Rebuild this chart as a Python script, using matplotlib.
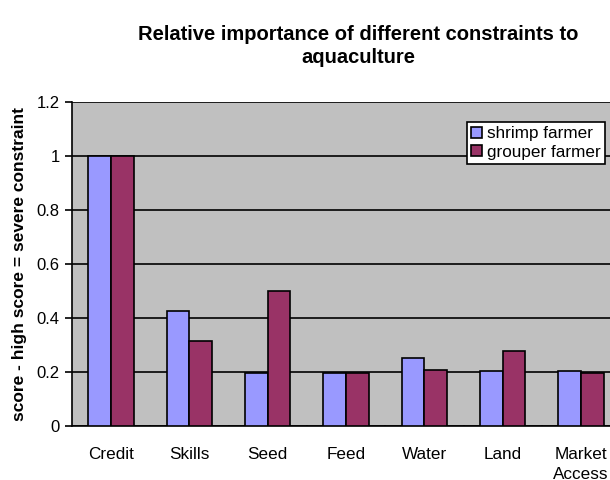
import numpy as np
import matplotlib
matplotlib.use('Agg')
import matplotlib.pyplot as plt

plt.rcParams['font.family'] = ['Liberation Sans', 'DejaVu Sans']

# data
Categories = ['Credit', 'Skills', 'Seed', 'Feed', 'Water', 'Land', 'Market\nAccess']
Shrimp = [1.0, 0.427, 0.198, 0.198, 0.251, 0.205, 0.205]
Grouper = [1.0, 0.316, 0.501, 0.198, 0.207, 0.279, 0.197]
SeriesNames = ['shrimp farmer', 'grouper farmer']

CatPx = 78.3  # width of one category in pixels

fig = plt.figure(figsize=(6.1, 4.8), dpi=100)
# plot area from x=72px to the right edge (cropped), y=102px to 426px
ax = fig.add_axes([72/610, 1 - 426/480, 1 - 72/610, (426 - 102)/480])
ax.set_facecolor('#c0c0c0')

x = np.arange(len(Categories))
w = 0.29
ax.bar(x - w/2, Shrimp, w, color='#9999ff', edgecolor='black', linewidth=1.2,
       label=SeriesNames[0], zorder=3)
ax.bar(x + w/2, Grouper, w, color='#993366', edgecolor='black', linewidth=1.2,
       label=SeriesNames[1], zorder=3)

ax.set_ylim(0, 1.2)
ax.set_yticks(np.arange(0, 1.21, 0.2))
ax.set_yticklabels(['0', '0.2', '0.4', '0.6', '0.8', '1', '1.2'], fontsize=12)
ax.set_xlim(-0.5, -0.5 + 538/CatPx)
ax.set_xticks(x)
ax.set_xticklabels(Categories, fontsize=12.3, linespacing=1.4)
ax.tick_params(axis='x', length=0, pad=15)
ax.tick_params(axis='y', length=5, width=1.2, direction='out', pad=4)
# category separator ticks
for b in np.arange(-0.5, len(Categories), 1.0):
    ax.plot([b, b], [0, -0.018], color='black', lw=1.2, clip_on=True, zorder=4)

ax.grid(axis='y', color='black', linewidth=1.2, zorder=1)
for s in ['top', 'right']:
    ax.spines[s].set_visible(False)
ax.spines['left'].set_linewidth(1.2)
ax.spines['bottom'].set_linewidth(1.2)

ax.set_ylabel('score - high score = severe constraint', fontsize=12.5, fontweight='bold',
              labelpad=7)

leg = ax.legend(loc='upper left', bbox_to_anchor=((467 - 72)/538, (426 - 122)/324),
                fontsize=12.3, frameon=True, fancybox=False, edgecolor='black',
                handlelength=0.65, handleheight=0.65, handletextpad=0.25,
                borderpad=0.25, labelspacing=0.2, borderaxespad=0, framealpha=1)
leg.get_frame().set_linewidth(1.2)

fig.text(358/610, 1 - 46/480, 'Relative importance of different constraints to\naquaculture',
         ha='center', va='center', fontsize=14.5, fontweight='bold', linespacing=1.3)

fig.savefig('out.png', dpi=100)
